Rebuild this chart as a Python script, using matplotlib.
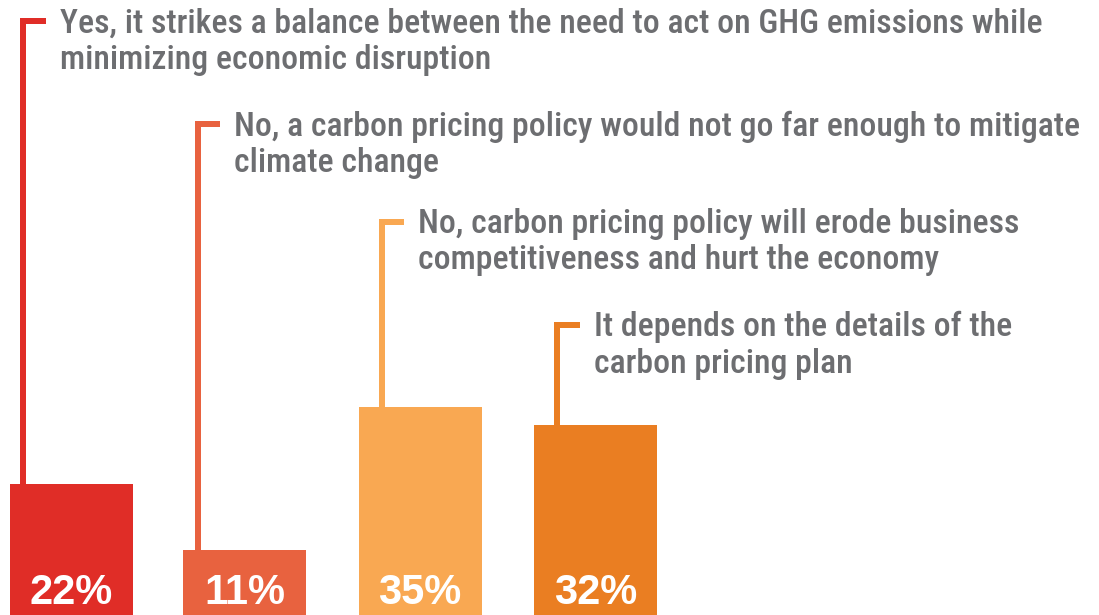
import matplotlib
matplotlib.use("Agg")
import matplotlib.pyplot as plt

# ---- data ----
categories = [
    "Yes, it strikes a balance between the need to act on GHG emissions while\nminimizing economic disruption",
    "No, a carbon pricing policy would not go far enough to mitigate\nclimate change",
    "No, carbon pricing policy will erode business\ncompetitiveness and hurt the economy",
    "It depends on the details of the\ncarbon pricing plan",
]
values = [22, 11, 35, 32]
value_labels = ["22%", "11%", "35%", "32%"]

# ---- style / layout ----
colors = ["#E02D27", "#E8623F", "#F9A852", "#EA7E22"]
text_gray = "#6D6E71"
W, H = 1099, 615
px_per_pct = 5.94
bar_centers_px = [71, 244.5, 420, 595.5]
bar_width_px = 123
line_x_px = [22.5, 197.5, 381.5, 557]
tick_y_px = [21.5, 124.5, 222, 325]
tick_end_px = [46, 220, 404, 580]
text_x_px = [60, 234, 418, 594]

label_family = ["Roboto Condensed", "IBM Plex Sans Condensed", "DejaVu Sans"]

fig = plt.figure(figsize=(W / 100, H / 100), dpi=100)
ax = fig.add_axes([0, 0, 1, 1])
spacing = 175.0
x0 = bar_centers_px[0]
ax.set_xlim((0 - x0) / spacing, (W - x0) / spacing)
ax.set_ylim(0, H / px_per_pct)
ax.axis("off")

def px_x(p):
    return (p - x0) / spacing

def px_y(p):
    return (H - p) / px_per_pct

xs = [px_x(c) for c in bar_centers_px]
ax.bar(xs, values, width=bar_width_px / spacing, color=colors, align="center", zorder=2)

lw = 6 * 72 / 100
for i, v in enumerate(values):
    lx = px_x(line_x_px[i])
    ty = px_y(tick_y_px[i])
    ax.plot([lx, lx, px_x(tick_end_px[i])], [v, ty, ty], color=colors[i],
            lw=lw, solid_joinstyle="miter", solid_capstyle="butt", zorder=1)
    lines = categories[i].split("\n")
    for j, line in enumerate(lines):
        base = tick_y_px[i] + 11.5 + 36 * j
        ax.text(px_x(text_x_px[i]), px_y(base), line, ha="left", va="baseline",
                color=text_gray, fontsize=24.3, fontweight="medium", family=label_family)
    ax.text(xs[i], px_y(604), value_labels[i], ha="center", va="baseline",
            color="white", fontsize=30, fontweight="bold",
            family=["Liberation Sans", "DejaVu Sans"], zorder=3)

fig.savefig("out.png", dpi=100, facecolor="white")
